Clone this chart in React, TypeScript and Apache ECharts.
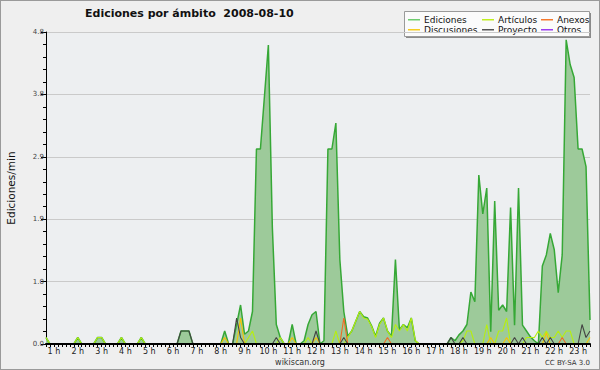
import React, { useEffect, useRef } from 'react';
import * as echarts from 'echarts';

// 10-minute bins, first bin at 0:40
const START_MINUTE = 40;
const STEP_MINUTES = 10;
const BIN_COUNT = 138;
const CATEGORIES: string[] = [];
for (let i = 0; i < BIN_COUNT; i++) {
  const m = START_MINUTE + i * STEP_MINUTES;
  CATEGORIES.push(`${Math.floor(m / 60)}:${String(m % 60).padStart(2, '0')}`);
}

const HOUR_LABELS = [
  '1 h', '2 h', '3 h', '4 h', '5 h', '6 h', '7 h', '8 h', '9 h', '10 h', '11 h', '12 h',
  '13 h', '14 h', '15 h', '16 h', '17 h', '18 h', '19 h', '20 h', '21 h', '22 h', '23 h',
];

const Y_MAX = 4.8;
const Y_STEP = 0.96;

// Each row = one hour (6 bins); first row holds 0:40 and 0:50
const EDICIONES = [
  0.1, 0,
  0, 0, 0, 0, 0, 0,
  0.1, 0, 0, 0, 0, 0.1,
  0.1, 0, 0, 0, 0, 0.1,
  0, 0, 0, 0, 0.1, 0,
  0, 0, 0, 0, 0, 0,
  0, 0, 0.2, 0.2, 0.2, 0,
  0, 0, 0, 0, 0, 0,
  0, 0.2, 0, 0, 0.3, 0.6,
  0.15, 0.2, 0.5, 3.0, 3.0, 3.8,
  4.6, 1.8, 0.3, 0.1, 0, 0,
  0.3, 0, 0, 0.05, 0.3, 0.45,
  0.5, 0, 0.05, 3.0, 3.0, 3.4,
  1.3, 0.5, 0.12, 0.2, 0.35, 0.5,
  0.42, 0.4, 0.28, 0.12, 0.32, 0.4,
  0.2, 0.12, 1.3, 0.22, 0.3, 0.25,
  0.4, 0.05, 0, 0, 0, 0,
  0, 0, 0, 0, 0.1, 0.05,
  0.14, 0.2, 0.3, 0.8, 0.65, 2.6,
  2.0, 2.4, 0.19, 2.2, 0.52, 0.6,
  0.5, 2.1, 0.29, 2.4, 0.29, 0.2,
  0.11, 0.05, 0, 1.2, 1.37, 1.7,
  1.45, 0.79, 1.37, 4.68, 4.3, 4.1,
  3.0, 3.0, 2.73, 0.37,
];

const ARTICULOS = [
  0.1, 0,
  0, 0, 0, 0, 0, 0,
  0.1, 0, 0, 0, 0, 0.1,
  0.1, 0, 0, 0, 0, 0.1,
  0, 0, 0, 0, 0.1, 0,
  0, 0, 0, 0, 0, 0,
  0, 0, 0, 0, 0, 0,
  0, 0, 0, 0, 0, 0,
  0, 0, 0, 0, 0, 0,
  0, 0.1, 0.2, 0, 0, 0,
  0, 0, 0, 0.1, 0, 0,
  0, 0, 0, 0, 0.1, 0,
  0, 0, 0, 0, 0, 0.2,
  0, 0, 0.1, 0.2, 0.35, 0.5,
  0.4, 0.38, 0.27, 0.1, 0.3, 0.4,
  0.2, 0.1, 0.3, 0.2, 0.3, 0.2,
  0.4, 0.05, 0, 0, 0, 0,
  0, 0, 0, 0, 0, 0,
  0, 0.05, 0.2, 0.2, 0, 0,
  0, 0.3, 0, 0, 0.2, 0.2,
  0.4, 0, 0, 0, 0, 0.1,
  0.1, 0.1, 0.2, 0.1, 0.2, 0.1,
  0.1, 0.2, 0.1, 0.2, 0.2, 0,
  0, 0, 0, 0,
];

const ANEXOS = [
  0, 0,
  0, 0, 0, 0, 0, 0,
  0, 0, 0, 0, 0, 0,
  0, 0, 0, 0, 0, 0,
  0, 0, 0, 0, 0, 0,
  0, 0, 0, 0, 0, 0,
  0, 0, 0, 0, 0, 0,
  0, 0, 0, 0, 0, 0,
  0, 0, 0, 0, 0, 0,
  0, 0, 0, 0, 0, 0,
  0, 0, 0, 0, 0, 0,
  0, 0, 0, 0, 0, 0,
  0, 0, 0, 0, 0, 0,
  0, 0.4, 0, 0, 0, 0,
  0, 0, 0, 0, 0, 0,
  0.1, 0, 0, 0, 0, 0,
  0, 0, 0, 0, 0, 0,
  0, 0, 0, 0, 0, 0,
  0, 0, 0, 0, 0, 0,
  0, 0, 0, 0, 0, 0,
  0, 0, 0, 0, 0, 0,
  0, 0, 0, 0, 0, 0,
  0, 0, 0.1, 0, 0, 0,
  0, 0, 0, 0,
];

const DISCUSIONES = [
  0, 0,
  0, 0, 0, 0, 0, 0,
  0, 0, 0, 0, 0, 0,
  0, 0, 0, 0, 0, 0,
  0, 0, 0, 0, 0, 0,
  0, 0, 0, 0, 0, 0,
  0, 0, 0, 0, 0, 0,
  0, 0, 0, 0, 0, 0,
  0, 0.1, 0, 0, 0, 0.4,
  0, 0, 0, 0, 0, 0,
  0, 0, 0, 0, 0, 0,
  0.1, 0, 0, 0, 0, 0,
  0.1, 0, 0, 0, 0, 0,
  0, 0, 0, 0, 0, 0,
  0, 0, 0, 0, 0, 0,
  0, 0, 0, 0, 0, 0,
  0, 0, 0, 0, 0, 0,
  0, 0, 0, 0, 0, 0,
  0, 0, 0, 0, 0, 0,
  0, 0, 0.1, 0, 0, 0,
  0.1, 0, 0, 0, 0, 0,
  0, 0, 0, 0, 0.17, 0,
  0, 0, 0, 0, 0, 0,
  0, 0, 0, 0.1,
];

const PROYECTO = [
  0, 0,
  0, 0, 0, 0, 0, 0,
  0, 0, 0, 0, 0, 0,
  0, 0, 0, 0, 0, 0,
  0, 0, 0, 0, 0, 0,
  0, 0, 0, 0, 0, 0,
  0, 0, 0.2, 0.2, 0.2, 0,
  0, 0, 0, 0, 0, 0,
  0, 0, 0, 0, 0.4, 0.1,
  0, 0, 0, 0, 0, 0,
  0, 0, 0.1, 0, 0, 0,
  0, 0, 0, 0, 0, 0,
  0.2, 0, 0, 0, 0, 0,
  0, 0.1, 0, 0, 0, 0,
  0, 0, 0, 0, 0, 0,
  0, 0, 0, 0, 0, 0,
  0, 0, 0, 0, 0, 0,
  0, 0, 0, 0, 0.1, 0,
  0, 0.1, 0, 0, 0, 0,
  0, 0, 0, 0, 0, 0,
  0, 0, 0.1, 0, 0.1, 0,
  0, 0, 0, 0.1, 0, 0.1,
  0, 0, 0, 0, 0, 0,
  0, 0.3, 0.1, 0.2,
];

const OTROS = [
  0, 0,
  0, 0, 0, 0, 0, 0,
  0, 0, 0, 0, 0, 0,
  0, 0, 0, 0, 0, 0,
  0, 0, 0, 0, 0, 0,
  0, 0, 0, 0, 0, 0,
  0, 0, 0, 0, 0, 0,
  0, 0, 0, 0, 0, 0,
  0, 0, 0, 0, 0, 0,
  0, 0, 0, 0, 0, 0,
  0, 0, 0, 0, 0, 0,
  0, 0, 0, 0, 0, 0,
  0, 0, 0, 0, 0, 0,
  0, 0, 0, 0, 0, 0,
  0, 0, 0, 0, 0, 0,
  0, 0, 0, 0, 0, 0,
  0, 0, 0, 0, 0, 0,
  0, 0, 0, 0, 0, 0,
  0, 0, 0, 0, 0, 0,
  0, 0, 0, 0, 0, 0,
  0, 0, 0, 0, 0, 0,
  0, 0, 0, 0, 0, 0,
  0, 0, 0, 0, 0, 0,
  0, 0, 0, 0,
];

const SERIES_NAMES = ['Ediciones', 'Artículos', 'Anexos', 'Discusiones', 'Proyecto', 'Otros'];
const SERIES_DATA = [EDICIONES, ARTICULOS, ANEXOS, DISCUSIONES, PROYECTO, OTROS];
const SERIES_COLORS = ['#36a836', '#b6ee10', '#f06a24', '#f5c400', '#444444', '#9b3cf0'];
const LEGEND_COLORS = ['#6fcc6f', '#c0ee20', '#f5782c', '#f5cc20', '#555555', '#9b3cf0'];

const FONT = "'DejaVu Sans', sans-serif";

export default function App() {
  const ref = useRef<HTMLDivElement>(null);

  useEffect(() => {
    if (!ref.current) return;
    const chart = echarts.init(ref.current, undefined, { renderer: 'svg' });

    const labelAt = (i: number) => (i >= 2 && (i - 2) % 6 === 0 ? HOUR_LABELS[(i - 2) / 6] ?? '' : '');

    const series: any[] = SERIES_NAMES.map((name, k) => ({
      name,
      type: 'line',
      data: SERIES_DATA[k],
      symbol: 'none',
      smooth: false,
      z: 2 + k * 0.01,
      lineStyle: { color: SERIES_COLORS[k], width: k === 0 ? 1.5 : 1.1 },
      itemStyle: { color: SERIES_COLORS[k] },
      areaStyle: k === 0 ? { color: '#9dca9a', opacity: 1 } : undefined,
    }));

    // legend (JpGraph-like box, three columns)
    const colX = [408, 482, 541];
    const rowY = [19.5, 29.5];
    const legendEls: any[] = [
      { type: 'rect', shape: { x: 406, y: 13, width: 185, height: 25 }, style: { fill: '#8a8a8a' }, silent: true },
      { type: 'rect', shape: { x: 404.5, y: 11.5, width: 185, height: 25 }, style: { fill: '#fbfbfb', stroke: '#9a9a9a', lineWidth: 1 }, silent: true },
    ];
    SERIES_NAMES.forEach((name, idx) => {
      const col = idx % 3;
      const row = Math.floor(idx / 3);
      const x = colX[col];
      const y = rowY[row];
      legendEls.push({
        type: 'rect',
        shape: { x, y: y - 0.5, width: 12, height: 1.5 },
        style: { fill: LEGEND_COLORS[idx] },
        silent: true,
      });
      legendEls.push({
        type: 'text',
        x: x + 16,
        y,
        style: { text: name, fontFamily: FONT, fontSize: 9, fill: '#111', textVerticalAlign: 'middle', verticalAlign: 'middle' },
        silent: true,
      });
    });

    chart.setOption({
      animation: false,
      backgroundColor: '#efefef',
      title: {
        text: 'Ediciones por ámbito  2008-08-10',
        left: 85,
        top: 8,
        padding: 0,
        textStyle: { fontFamily: FONT, fontSize: 11, fontWeight: 'bold', color: '#111' },
      },
      grid: {
        left: 46,
        right: 10,
        top: 32,
        bottom: 26,
        show: true,
        backgroundColor: '#edeff1',
        borderWidth: 0,
        containLabel: false,
        outerBoundsMode: 'none',
      },
      xAxis: {
        type: 'category',
        data: CATEGORIES,
        boundaryGap: false,
        z: 5,
        axisLine: { show: true, lineStyle: { color: '#000', width: 2 } },
        axisTick: { show: true, interval: 0, length: 3, lineStyle: { color: '#000' } },
        axisLabel: {
          interval: (i: number) => i >= 2 && (i - 2) % 6 === 0,
          formatter: (_v: string, i: number) => labelAt(i),
          fontFamily: FONT,
          fontSize: 8,
          color: '#222',
          margin: 3,
        },
        splitLine: { show: false },
      },
      yAxis: {
        type: 'value',
        min: 0,
        max: Y_MAX,
        interval: Y_STEP,
        name: 'Ediciones/min',
        nameLocation: 'middle',
        nameGap: 30,
        nameRotate: 90,
        nameTextStyle: { fontFamily: FONT, fontSize: 10.5, color: '#111' },
        axisLine: { show: true, lineStyle: { color: '#000', width: 1 } },
        axisTick: { show: true, length: 5, lineStyle: { color: '#000' } },
        minorTick: { show: true, splitNumber: 5, length: 3, lineStyle: { color: '#000' } },
        axisLabel: {
          formatter: (v: number) => v.toFixed(1),
          fontFamily: FONT,
          fontSize: 7,
          color: '#444',
          margin: 2,
        },
        splitLine: { show: true, lineStyle: { color: '#cacaca', width: 1 } },
      },
      series,
      graphic: [
        ...legendEls,
        {
          type: 'text',
          x: 300,
          y: 362,
          style: { text: 'wikiscan.org', fontFamily: FONT, fontSize: 8, fill: '#333', textAlign: 'center', align: 'center', textVerticalAlign: 'middle', verticalAlign: 'middle' },
          silent: true,
        },
        {
          type: 'text',
          x: 590,
          y: 363,
          style: { text: 'CC BY-SA 3.0', fontFamily: FONT, fontSize: 7, fill: '#333', textAlign: 'right', align: 'right', textVerticalAlign: 'middle', verticalAlign: 'middle' },
          silent: true,
        },
      ],
    });

    return () => chart.dispose();
  }, []);

  return (
    <div style={{ position: 'fixed', left: 0, top: 0, width: 600, height: 370, background: '#efefef' }}>
      <div ref={ref} style={{ width: 600, height: 370 }} />
      <div
        style={{
          position: 'absolute',
          left: 0,
          top: 0,
          width: 600,
          height: 370,
          boxSizing: 'border-box',
          border: '1px solid #9a9a9a',
          pointerEvents: 'none',
        }}
      />
    </div>
  );
}
